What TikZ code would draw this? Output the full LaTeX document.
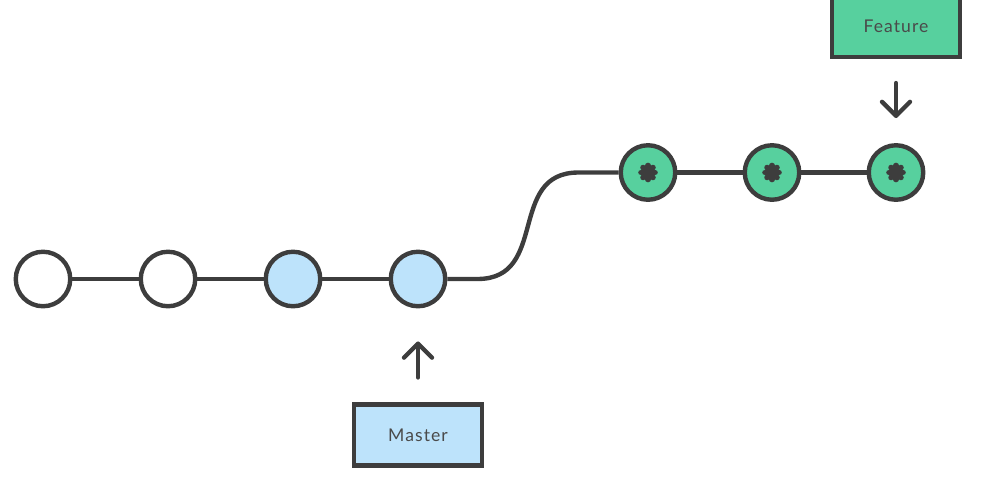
\documentclass[tikz,border=0pt]{standalone}
\usepackage{fontspec}
\setmainfont{Lato}
\newfontfamily\boxfont[LetterSpace=6]{Lato}
\usetikzlibrary{arrows.meta,positioning,calc}
\definecolor{inkgray}{HTML}{3D3D3D}
\definecolor{labelgray}{HTML}{4A4A4A}
\definecolor{masterblue}{HTML}{BDE3FB}
\definecolor{featuregreen}{HTML}{57D09E}

\tikzset{
  commit/.style={circle, draw=inkgray, line width=2.5pt, minimum size=1.09cm, inner sep=0pt},
  branchbox/.style={rectangle, draw=inkgray, line width=2.5pt, minimum width=2.56cm, minimum height=1.22cm,
    font=\boxfont\fontsize{10}{12}\selectfont, text=labelgray},
  link/.style={draw=inkgray, line width=2.5pt},
  pointer/.style={draw=inkgray, line width=2.5pt, line cap=round,
    -{Straight Barb[length=0.28cm, width=0.56cm, line cap=round, line join=round]}},
}

\begin{document}
\begin{tikzpicture}[x=0.02cm, y=-0.02cm]
  \clip (0,0) rectangle (1000,500);
  % commits on master
  \foreach \i in {1,...,4} {
    \pgfmathsetmacro{\x}{43+125*(\i-1)}
    \ifnum\i<3
      \node[commit, fill=white] (c\i) at (\x, 279) {};
    \else
      \node[commit, fill=masterblue] (c\i) at (\x, 279) {};
    \fi
  }
  % commits on feature
  \foreach \i in {1,...,3} {
    \pgfmathsetmacro{\x}{648+124*(\i-1)}
    \node[commit, fill=featuregreen] (g\i) at (\x, 172.5) {};
    \foreach \a in {0,45,90,135}
      \draw[inkgray, line width=3.2pt, line cap=round] (g\i) ++(\a:7) -- ++(\a+180:14);
  }
  \draw[link] (c1) -- (c2) (c2) -- (c3) (c3) -- (c4);
  \draw[link] (g1) -- (g2) (g2) -- (g3);
  \draw[link] (c4.east) -- ++(30,0) .. controls +(72,0) and +(-72,0) .. ($(g1.west)+(-40,0)$) -- (g1.west);
  % branch labels
  \node[branchbox, fill=masterblue, below=1.88cm of c4] (master) {Master};
  \node[branchbox, fill=featuregreen, above=1.68cm of g3] (feature) {Feature};
  \draw[pointer, shorten <=0.5cm, shorten >=0.66cm] (master.north) -- (c4.south);
  \draw[pointer, shorten <=0.48cm, shorten >=0.5cm] (feature.south) -- (g3.north);
\end{tikzpicture}
\end{document}
